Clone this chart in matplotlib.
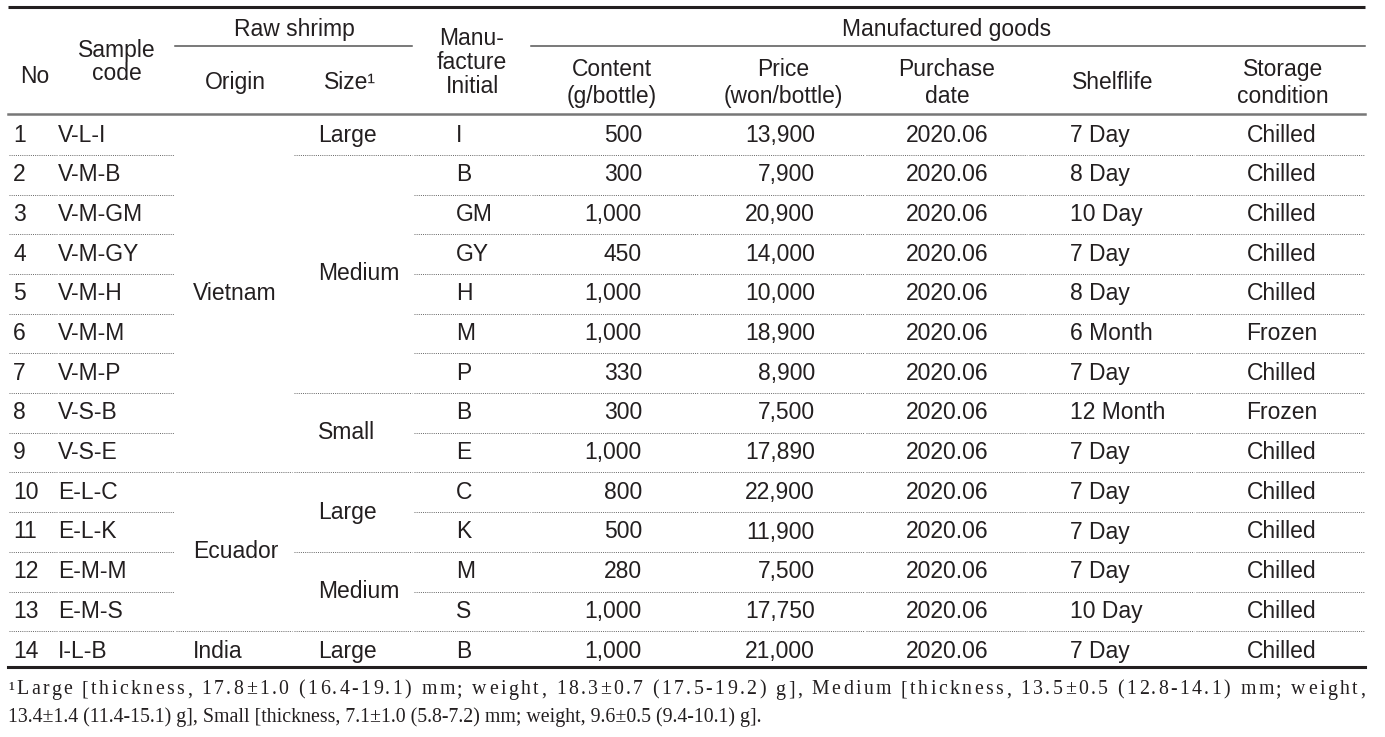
import matplotlib
matplotlib.use("Agg")
import matplotlib.pyplot as plt
from matplotlib.font_manager import FontProperties

# table data
nos = list(range(1, 15))
codes = ['V-L-I', 'V-M-B', 'V-M-GM', 'V-M-GY', 'V-M-H', 'V-M-M', 'V-M-P',
         'V-S-B', 'V-S-E', 'E-L-C', 'E-L-K', 'E-M-M', 'E-M-S', 'I-L-B']
origins = [('Vietnam', 0, 8), ('Ecuador', 9, 12), ('India', 13, 13)]
sizes = [('Large', 0, 0), ('Medium', 1, 6), ('Small', 7, 8),
         ('Large', 9, 10), ('Medium', 11, 12), ('Large', 13, 13)]
initials = ['I', 'B', 'GM', 'GY', 'H', 'M', 'P', 'B', 'E', 'C', 'K', 'M', 'S', 'B']
content = [500, 300, 1000, 450, 1000, 1000, 330, 300, 1000, 800, 500, 280, 1000, 1000]
price = [13900, 7900, 20900, 14000, 10000, 18900, 8900, 7500, 17890, 22900,
         11900, 7500, 17750, 21000]
purchase = ['2020.06'] * 14
shelf = ['7 Day', '8 Day', '10 Day', '7 Day', '8 Day', '6 Month', '7 Day',
         '12 Month', '7 Day', '7 Day', '7 Day', '7 Day', '10 Day', '7 Day']
storage = ['Chilled', 'Chilled', 'Chilled', 'Chilled', 'Chilled', 'Frozen', 'Chilled',
           'Frozen', 'Chilled', 'Chilled', 'Chilled', 'Chilled', 'Chilled', 'Chilled']

foot1 = ("\u00b9Large [thickness, 17.8\u00b11.0 (16.4-19.1) mm; weight, 18.3\u00b10.7 "
         "(17.5-19.2) g], Medium [thickness, 13.5\u00b10.5 (12.8-14.1) mm; weight,")
foot2 = ("13.4\u00b11.4 (11.4-15.1) g], Small [thickness, 7.1\u00b11.0 (5.8-7.2) mm; "
         "weight, 9.6\u00b10.5 (9.4-10.1) g].")

# layout (pixels)
W, H = 1385, 737
col_edges = [8, 58, 175, 293, 413, 531, 699, 865, 1028, 1195, 1365]
row0, dy = 135, 39.7
fs = 16.5
sans = 'Liberation Sans'
serif = 'Liberation Serif'

fig = plt.figure(figsize=(W / 100, H / 100), dpi=100)
ax = fig.add_axes([0, 0, 1, 1])
ax.set_xlim(0, W)
ax.set_ylim(H, 0)
ax.axis('off')

def ry(i):
    return row0 + dy * i

def txt(x, y, s, ha='left', size=fs, family=sans, **kw):
    return ax.text(x, y, s, ha=ha, va='center', fontsize=size, family=family,
                   color='#231f20', **kw)

def stack(x, y0, step, lines):
    for k, s in enumerate(lines):
        txt(x, y0 + step * k, s, ha='center')

# header lines
ax.plot([8, 1365], [7, 7], color='#231f20', lw=2.2, solid_capstyle='butt')
ax.plot([175, 412], [46, 46], color='#555555', lw=1.1)
ax.plot([531, 1365], [46, 46], color='#555555', lw=1.1)
ax.plot([8, 1365], [114, 114], color='#777777', lw=1.8)
ax.plot([8, 1365], [ry(13) + 16, ry(13) + 16], color='#231f20', lw=2.2)

# header text
txt(35, 76, 'No', ha='center')
stack(117, 50, 23, ['Sample', 'code'])
txt(294, 29, 'Raw shrimp', ha='center')
txt(235, 82, 'Origin', ha='center')
txt(350, 82, 'Size\u00b9', ha='center')
stack(472, 38, 24, ['Manu-', 'facture', 'Initial'])
txt(947, 29, 'Manufactured goods', ha='center')
stack(612, 69, 27, ['Content', '(g/bottle)'])
stack(783, 69, 27, ['Price', '(won/bottle)'])
stack(947, 69, 27, ['Purchase', 'date'])
txt(1113, 82, 'Shelflife', ha='center')
stack(1283, 69, 27, ['Storage', 'condition'])

# body rows
for i in range(14):
    y = ry(i)
    txt(13, y, str(nos[i]))
    txt(58, y, codes[i])
    txt(456, y, initials[i])
    txt(642, y, f"{content[i]:,}", ha='right')
    txt(815, y, f"{price[i]:,}", ha='right')
    txt(947, y, purchase[i], ha='center')
    txt(1070, y, shelf[i])
    txt(1282, y, storage[i], ha='center')

for name, a, b in origins:
    txt(193, (ry(a) + ry(b)) / 2, name)
for name, a, b in sizes:
    txt(318, (ry(a) + ry(b)) / 2, name)

# dotted separators, broken at column edges
def ends_group(groups, i):
    return any(b == i for _, a, b in groups)

for i in range(13):
    y = ry(i) + dy / 2
    for c in range(len(col_edges) - 1):
        if c == 2 and not ends_group(origins, i):
            continue
        if c == 3 and not ends_group(sizes, i):
            continue
        ax.plot([col_edges[c] + 1, col_edges[c + 1] - 1], [y, y], color='#666666',
                lw=0.7, linestyle=(0, (1, 1.2)))

# footnote: first line justified with letter spacing
fig.canvas.draw()
r = fig.canvas.get_renderer()
fsz = 14.3
prop = FontProperties(family=serif, size=fsz)

def tw(s):
    return r.get_text_width_height_descent(s + '|', prop, ismath=False)[0] - \
        r.get_text_width_height_descent('|', prop, ismath=False)[0]

n = len(foot1)
track = (1365 - 8 - tw(foot1)) / (n - 1)
for k, ch in enumerate(foot1):
    if ch == ' ':
        continue
    txt(8 + tw(foot1[:k]) + k * track, 690, ch, size=fsz, family=serif)
txt(8, 717, foot2, size=fsz, family=serif)

fig.savefig('out.png', dpi=100)
